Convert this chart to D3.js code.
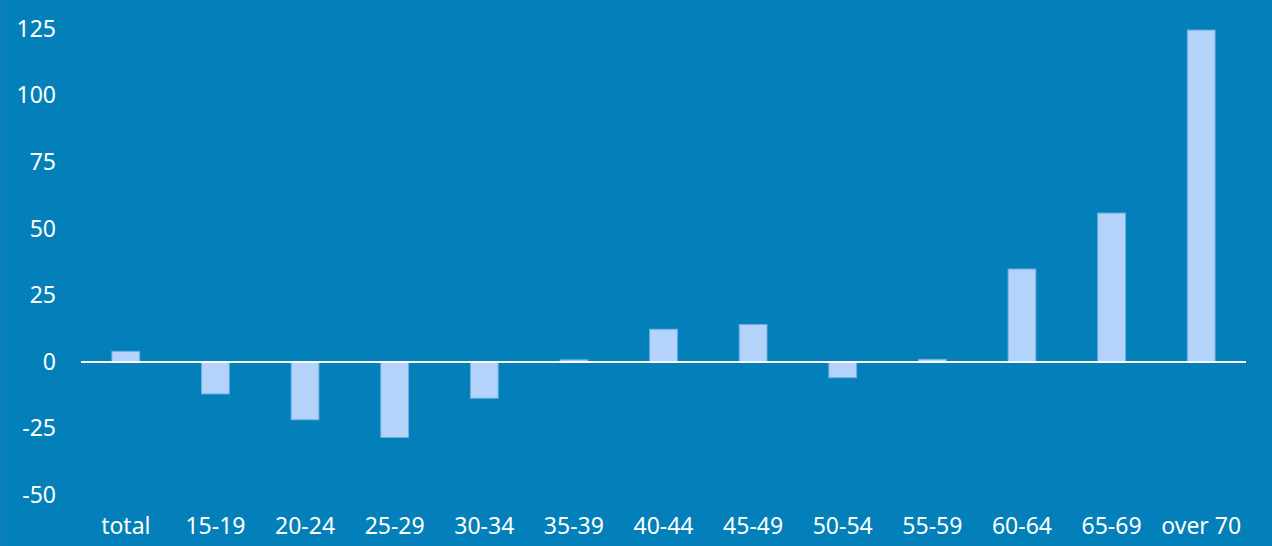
<!DOCTYPE html>
<html><head><meta charset="utf-8">
<script src="https://cdn.jsdelivr.net/npm/d3@7"></script>
<style>
html,body{margin:0;padding:0;background:#037fba;}
svg{display:block;}
</style></head>
<body>
<script>
const categories = ["total","15-19","20-24","25-29","30-34","35-39","40-44","45-49","50-54","55-59","60-64","65-69","over 70"];
const values = [4, -12, -21.7, -28.3, -13.6, 0.8, 12.3, 14.1, -5.9, 1.0, 34.9, 55.9, 124.6];
const yTicks = [-50, -25, 0, 25, 50, 75, 100, 125];

const W = 1272, H = 546;
const svg = d3.select("body").append("svg").attr("width", W).attr("height", H);
svg.append("rect").attr("width", W).attr("height", H).attr("fill", "#037fba");
svg.append("rect").attr("width", 7).attr("height", H).attr("fill", "#0c80b9");

const x = d3.scaleBand().domain(categories).range([81, 1246]).paddingInner(0.69).paddingOuter(0.345);
const y = d3.scaleLinear().domain([-50, 125]).range([495.2, 29]);

const font = "'Noto Sans', 'Open Sans', sans-serif";

// y axis labels
const yAxis = d3.axisLeft(y).tickValues(yTicks).tickSize(0).tickPadding(0).tickFormat(d => String(d));
const gy = svg.append("g").attr("transform", "translate(56,0)").call(yAxis);
gy.select(".domain").remove();
gy.selectAll("text").attr("fill", "#ffffff").style("font-family", font).style("font-size", "23px");

// bars
svg.append("g").selectAll("rect").data(values).join("rect")
  .attr("x", (d, i) => x(categories[i]))
  .attr("width", x.bandwidth())
  .attr("y", d => y(Math.max(0, d)))
  .attr("height", d => Math.abs(y(d) - y(0)))
  .attr("fill", "#b3d3fb")
  .attr("stroke", "#6eaee0")
  .attr("stroke-width", 1);

// zero line
svg.append("line").attr("x1", 81).attr("x2", 1246).attr("y1", y(0)).attr("y2", y(0))
  .attr("stroke", "#ffffff").attr("stroke-width", 2);

// x axis labels
const xAxis = d3.axisBottom(x).tickSize(0).tickPadding(0);
const gx = svg.append("g").attr("transform", "translate(0,518)").call(xAxis);
gx.select(".domain").remove();
gx.selectAll("text").attr("fill", "#ffffff").style("font-family", font).style("font-size", "23px");
</script>
</body></html>
